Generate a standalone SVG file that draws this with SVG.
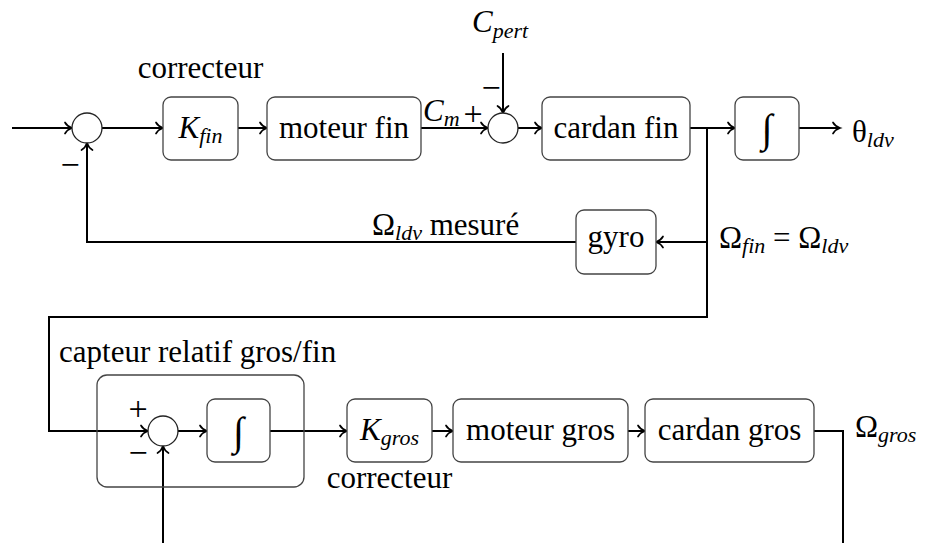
<svg xmlns="http://www.w3.org/2000/svg" width="925" height="543" viewBox="0 0 925 543">
<defs>
<marker id="to" markerUnits="userSpaceOnUse" markerWidth="14" markerHeight="14" viewBox="-8 -7 10 14" refX="0" refY="0" orient="auto" overflow="visible">
<path d="M -7,-5.5 C -5,-2 -1.8,-0.6 0,0 C -1.8,0.6 -5,2 -7,5.5" fill="none" stroke="#000" stroke-width="1.7" stroke-linecap="round"/>
</marker>
</defs>
<style>
.box{fill:#fff;stroke:#444;stroke-width:1.3}
.outer{fill:none;stroke:#444;stroke-width:1.3}
.sum{fill:#fff;stroke:#222;stroke-width:1.3}
.c{fill:none;stroke:#000;stroke-width:2}
.a{marker-end:url(#to)}
.m{text-anchor:middle}
.i{font-style:italic}
.s{font-size:22px;font-style:italic}
.pm{font-size:34px;text-anchor:middle}
.int{font-size:40px;text-anchor:middle}
</style>
<g id="connectors">
<path class="c a" d="M 12 128 H 72"/>
<path class="c a" d="M 102 128 H 163"/>
<path class="c a" d="M 238 128 H 267"/>
<path class="c a" d="M 421 128 H 488"/>
<path class="c a" d="M 503 53 V 113"/>
<path class="c a" d="M 518 128 H 542"/>
<path class="c a" d="M 690 128 H 735"/>
<path class="c a" d="M 799 128 H 840"/>
<path class="c a" d="M 707 128 V 242 H 656"/>
<path class="c a" d="M 576 242 H 87 V 143"/>
<path class="c a" d="M 707 242 V 317 H 49 V 431 H 148"/>
<path class="c a" d="M 178 431 H 207"/>
<path class="c a" d="M 270 431 H 347"/>
<path class="c a" d="M 432 431 H 453"/>
<path class="c a" d="M 628 431 H 645"/>
<path class="c" d="M 814 431 H 843 V 543"/>
<path class="c a" d="M 163 543 V 446"/>
</g>
<g font-family="Liberation Serif, Times New Roman, serif" font-size="31" fill="#000">
<g id="sum1"><circle class="sum" cx="87" cy="128" r="15"/><text x="70" y="176" class="pm">−</text></g>
<g id="kfin"><rect class="box" x="163" y="97" width="75" height="63" rx="8"/><text x="200.5" y="138" class="m"><tspan class="i">K</tspan><tspan class="s" dy="5">fin</tspan></text><text x="200.5" y="78" class="m">correcteur</text></g>
<g id="moteurfin"><rect class="box" x="267" y="97" width="154" height="63" rx="8"/><text x="344" y="138" class="m">moteur fin</text></g>
<g id="cm"><text x="423" y="121"><tspan class="i">C</tspan><tspan class="s" dy="5">m</tspan></text></g>
<g id="sum2"><circle class="sum" cx="503" cy="128" r="15"/><text x="473" y="125" class="pm">+</text><text x="491" y="99" class="pm">−</text></g>
<g id="cpert"><text x="472" y="32"><tspan class="i">C</tspan><tspan class="s" dy="6">pert</tspan></text></g>
<g id="cardanfin"><rect class="box" x="542" y="97" width="148" height="63" rx="8"/><text x="616" y="138" class="m">cardan fin</text></g>
<g id="int1"><rect class="box" x="735" y="97" width="64" height="63" rx="8"/><text x="767" y="142" class="int">∫</text></g>
<g id="theta"><text x="852" y="142">θ<tspan class="s" dy="5">ldv</tspan></text></g>
<g id="gyro"><rect class="box" x="576" y="210" width="80" height="64" rx="8"/><text x="616" y="247" class="m">gyro</text></g>
<g id="omegafin"><text x="719" y="248">Ω<tspan class="s" dy="5">fin</tspan><tspan dy="-5"> = Ω</tspan><tspan class="s" dy="5">ldv</tspan></text></g>
<g id="omegamesure"><text x="372" y="235">Ω<tspan class="s" dy="5">ldv</tspan><tspan dy="-5"> mesuré</tspan></text></g>
<g id="capteur"><rect class="outer" x="97" y="375" width="207" height="112" rx="10"/><text x="59" y="362">capteur relatif gros/fin</text></g>
<g id="sum3"><circle class="sum" cx="163" cy="431" r="15"/><text x="138" y="420" class="pm">+</text><text x="138" y="464" class="pm">−</text></g>
<g id="int2"><rect class="box" x="207" y="399" width="63" height="63" rx="8"/><text x="238.5" y="445" class="int">∫</text></g>
<g id="kgros"><rect class="box" x="347" y="399" width="85" height="63" rx="8"/><text x="389.5" y="440" class="m"><tspan class="i">K</tspan><tspan class="s" dy="5">gros</tspan></text><text x="389.5" y="488" class="m">correcteur</text></g>
<g id="moteurgros"><rect class="box" x="453" y="399" width="175" height="63" rx="8"/><text x="540.5" y="440" class="m">moteur gros</text></g>
<g id="cardangros"><rect class="box" x="645" y="399" width="169" height="63" rx="8"/><text x="729.5" y="440" class="m">cardan gros</text></g>
<g id="omegagros"><text x="855" y="437">Ω<tspan class="s" dy="5">gros</tspan></text></g>
</g>
</svg>
